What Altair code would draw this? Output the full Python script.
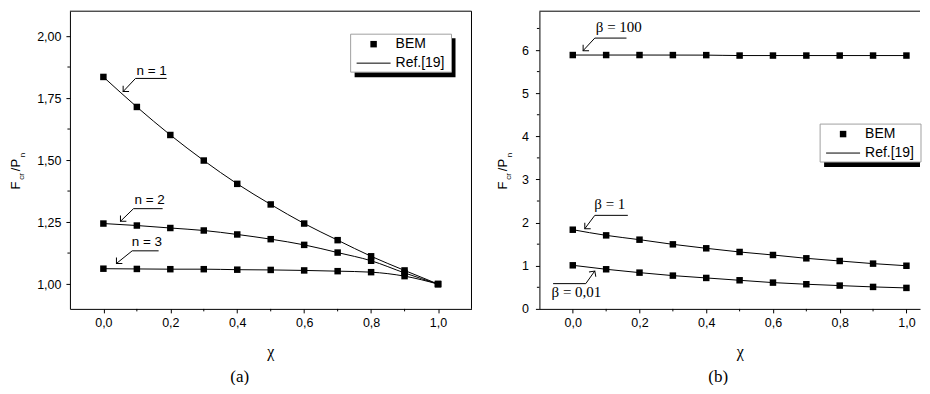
import altair as alt
import pandas as pd

# ---------------- data ----------------
chi = [0.0, 0.1, 0.2, 0.3, 0.4, 0.5, 0.6, 0.7, 0.8, 0.9, 1.0]

# panel (a): F_cr/P_n for n = 1, 2, 3
n1 = [1.835, 1.714, 1.601, 1.498, 1.404, 1.321, 1.244, 1.177, 1.112, 1.055, 1.000]
n2 = [1.244, 1.236, 1.226, 1.216, 1.200, 1.181, 1.158, 1.127, 1.094, 1.045, 1.000]
n3 = [1.062, 1.061, 1.060, 1.060, 1.058, 1.057, 1.055, 1.052, 1.048, 1.032, 1.000]

# panel (b): F_cr/P_n for beta = 100, 1, 0.01
b100 = [5.884, 5.884, 5.884, 5.883, 5.882, 5.872, 5.872, 5.872, 5.872, 5.872, 5.872]
b1 = [1.835, 1.704, 1.604, 1.496, 1.404, 1.319, 1.249, 1.172, 1.110, 1.049, 1.000]
b001 = [1.010, 0.918, 0.840, 0.771, 0.717, 0.663, 0.609, 0.571, 0.540, 0.509, 0.486]

x_major = [0.0, 0.2, 0.4, 0.6, 0.8, 1.0]
x_minor = [0.1, 0.3, 0.5, 0.7, 0.9]
ya_major = [1.0, 1.25, 1.5, 1.75, 2.0]
ya_minor = [1.125, 1.375, 1.625, 1.875]
yb_major = [0, 1, 2, 3, 4, 5, 6]
yb_minor = [0.5, 1.5, 2.5, 3.5, 4.5, 5.5, 6.5]

# annotations (data coordinates): path p0 -> p1 -> tip, arrow-head angle, label
ann_a_labels = ["n = 1", "n = 2", "n = 3"]
ann_a_text_x = [0.144, 0.138, 0.130]
ann_a_text_y = [1.857, 1.339, 1.169]
ann_a_p0x = [0.189, 0.177, 0.165]
ann_a_p1x = [0.096, 0.090, 0.086]
ann_a_py = [1.829, 1.304, 1.134]
ann_a_tipx = [0.059, 0.051, 0.039]
ann_a_tipy = [1.776, 1.253, 1.083]
ann_a_angle = [45, 45, 45]

ann_b_labels = ["\u03b2 = 100", "\u03b2 = 1", "\u03b2 = 0,01"]
ann_b_text_x = [0.138, 0.111, 0.011]
ann_b_text_y = [6.525, 2.441, 0.386]
ann_b_p0x = [0.161, 0.165, -0.059]
ann_b_p1x = [0.066, 0.066, 0.039]
ann_b_py = [6.277, 2.168, 0.585]
ann_b_tipx = [0.031, 0.036, 0.066]
ann_b_tipy = [5.986, 1.858, 0.879]
ann_b_angle = [45, 45, 215]

legend_labels = ["BEM", "Ref.[19]"]

SANS = "Arial, Liberation Sans"
SERIF = "Times New Roman, Liberation Serif"


def series_frame(names, arrays):
    rows = []
    for nm, arr in zip(names, arrays):
        for xv, yv in zip(chi, arr):
            rows.append({"x": xv, "y": yv, "s": nm})
    return pd.DataFrame(rows)


def ann_frames(labels, tx, ty, p0x, p1x, py, tipx, tipy, ang):
    path, heads, texts = [], [], []
    for i, lab in enumerate(labels):
        path.append({"x": p0x[i], "y": py[i], "id": i, "o": 0})
        path.append({"x": p1x[i], "y": py[i], "id": i, "o": 1})
        path.append({"x": tipx[i], "y": tipy[i], "id": i, "o": 2})
        heads.append({"x": tipx[i], "y": tipy[i], "a": ang[i]})
        texts.append({"x": tx[i], "y": ty[i], "t": lab})
    return pd.DataFrame(path), pd.DataFrame(heads), pd.DataFrame(texts)


ONE = pd.DataFrame({"k": [0]})


def make_panel(sdf, xdom, W, H, ydom, ymaj, ymin, ylabexpr, ylabpad,
               ann, ann_font, ann_size, leg_y, ytx, caption, cap_x, right_frame):
    xenc = alt.X("x:Q", scale=alt.Scale(domain=xdom, nice=False, zero=False),
                 axis=alt.Axis(values=x_major, title=None, grid=False, tickSize=4,
                               labelPadding=4,
                               labelExpr="replace(format(datum.value,'.1f'),'.',',')"))
    yenc = alt.Y("y:Q", scale=alt.Scale(domain=ydom, nice=False, zero=False),
                 axis=alt.Axis(values=ymaj, title=None, grid=False, tickSize=4,
                               labelPadding=ylabpad, labelExpr=ylabexpr))
    layers = []
    layers.append(alt.Chart(sdf).mark_line(color="black", strokeWidth=1, interpolate="monotone")
                  .encode(x=xenc, y=yenc, detail="s:N"))
    layers.append(alt.Chart(sdf).mark_point(shape="square", filled=True, color="black",
                                            size=42, opacity=1)
                  .encode(x=xenc, y=yenc))
    # minor ticks
    layers.append(alt.Chart(pd.DataFrame({"x": x_minor})).mark_rule(color="black", strokeWidth=1)
                  .encode(x=xenc, y=alt.value(H), y2=alt.value(H + 2.5)))
    layers.append(alt.Chart(pd.DataFrame({"y": ymin})).mark_rule(color="black", strokeWidth=1)
                  .encode(y=yenc, x=alt.value(0), x2=alt.value(-2.5)))
    # frame
    layers.append(alt.Chart(ONE).mark_rule(color="black", strokeWidth=1)
                  .encode(x=alt.value(0), x2=alt.value(W), y=alt.value(0)))
    if right_frame:
        layers.append(alt.Chart(ONE).mark_rule(color="black", strokeWidth=1)
                      .encode(x=alt.value(W), y=alt.value(0), y2=alt.value(H)))
    # annotations
    path, heads, texts = ann
    layers.append(alt.Chart(path).mark_line(color="black", strokeWidth=1)
                  .encode(x=xenc, y=yenc, detail="id:N", order="o:Q"))
    layers.append(alt.Chart(heads).mark_point(shape="M-1,-1L0,0L1,-1", filled=False,
                                              color="black", strokeWidth=1, size=70, opacity=1)
                  .encode(x=xenc, y=yenc, angle=alt.Angle("a:Q", scale=None)))
    layers.append(alt.Chart(texts).mark_text(font=ann_font, fontSize=ann_size, color="black")
                  .encode(x=xenc, y=yenc, text="t:N"))
    # legend (box with shadow)
    lx0, lx1, ly0, ly1 = 281, 382, leg_y, leg_y + 38
    layers.append(alt.Chart(ONE).mark_rect(color="black")
                  .encode(x=alt.value(lx0 + 4), x2=alt.value(min(lx1 + 4, W)),
                          y=alt.value(ly0 + 4), y2=alt.value(ly1 + 5)))
    layers.append(alt.Chart(ONE).mark_rect(fill="white", stroke="#a0a0a0", strokeWidth=1)
                  .encode(x=alt.value(lx0), x2=alt.value(lx1), y=alt.value(ly0), y2=alt.value(ly1)))
    layers.append(alt.Chart(ONE).mark_point(shape="square", filled=True, color="black",
                                            size=42, opacity=1)
                  .encode(x=alt.value(304), y=alt.value(ly0 + 10)))
    layers.append(alt.Chart(ONE).mark_rule(color="black", strokeWidth=1)
                  .encode(x=alt.value(287), x2=alt.value(321), y=alt.value(ly0 + 29)))
    layers.append(alt.Chart(ONE).mark_text(font=SANS, fontSize=14, align="left", color="black")
                  .encode(x=alt.value(326), y=alt.value(ly0 + 10), text=alt.value(legend_labels[0])))
    layers.append(alt.Chart(ONE).mark_text(font=SANS, fontSize=14, align="left", color="black")
                  .encode(x=alt.value(326), y=alt.value(ly0 + 29), text=alt.value(legend_labels[1])))
    # y title  F_cr / P_n
    for txt, dx, yy, fs in [("F", 0, 174.5, 13), ("cr", 6, 165.5, 8),
                            ("/P", 0, 154, 13), ("n", 7, 144, 8)]:
        layers.append(alt.Chart(ONE).mark_text(font=SANS, fontSize=fs, angle=270, color="black",
                                               baseline="middle", align="center")
                      .encode(x=alt.value(ytx + dx), y=alt.value(yy), text=alt.value(txt)))
    # x title and caption
    layers.append(alt.Chart(ONE).mark_text(font=SERIF, fontSize=16, color="black")
                  .encode(x=alt.value(201), y=alt.value(341), text=alt.value("\u03c7")))
    layers.append(alt.Chart(ONE).mark_text(font=SERIF, fontSize=17, color="black")
                  .encode(x=alt.value(cap_x), y=alt.value(366), text=alt.value(caption)))
    return alt.layer(*layers).properties(width=W, height=H)


left = make_panel(series_frame(["n1", "n2", "n3"], [n1, n2, n3]), [-0.1, 1.1], 402, 298,
                  [0.9, 2.1], ya_major, ya_minor,
                  "replace(format(datum.value,'.2f'),'.',',')", 5,
                  ann_frames(ann_a_labels, ann_a_text_x, ann_a_text_y, ann_a_p0x, ann_a_p1x,
                             ann_a_py, ann_a_tipx, ann_a_tipy, ann_a_angle),
                  SANS, 13.5, 23, -53.5, "(a)", 170, True)

right = make_panel(series_frame(["b100", "b1", "b001"], [b100, b1, b001]), [-0.1, 1.0407], 381, 298,
                   [0, 6.9], yb_major, yb_minor, "format(datum.value,'d')", 7,
                   ann_frames(ann_b_labels, ann_b_text_x, ann_b_text_y, ann_b_p0x, ann_b_p1x,
                              ann_b_py, ann_b_tipx, ann_b_tipy, ann_b_angle),
                   SERIF, 15, 113, -36, "(b)", 179, False)

chart = alt.hconcat(left, right, spacing=25).properties(
    padding={"left": 2, "top": 2, "right": 0, "bottom": 0}
).configure_view(stroke=None).configure_axis(
    labelFont=SANS, labelFontSize=12.5, labelColor="black", tickColor="black",
    domainColor="black", tickWidth=1, domainWidth=1
)

chart.save("out.html", embed_options={"renderer": "svg", "actions": False})
